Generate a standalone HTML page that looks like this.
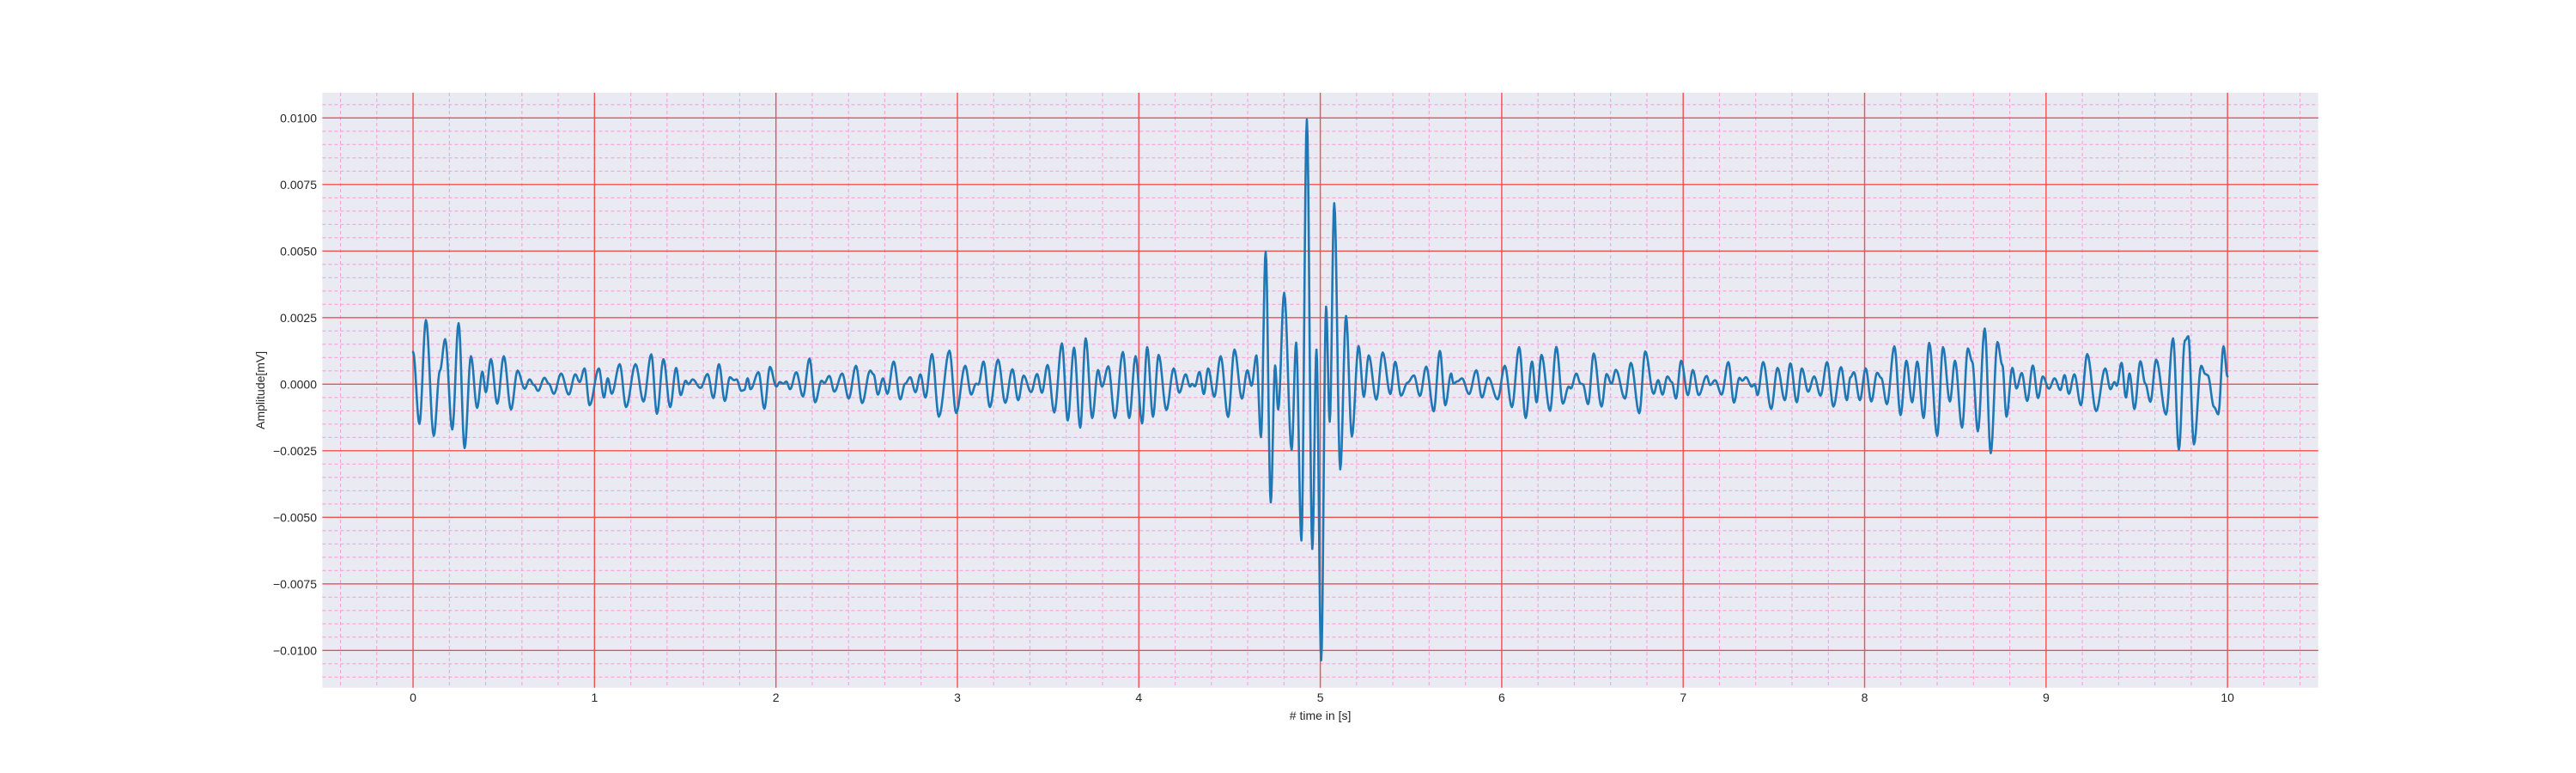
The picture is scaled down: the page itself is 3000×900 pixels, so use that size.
<!DOCTYPE html>
<html><head><meta charset="utf-8"><style>
html,body{margin:0;padding:0;background:#fff;}
svg{display:block;font-family:"Liberation Sans","DejaVu Sans",sans-serif;}
</style></head><body>
<svg id="chart" width="3000" height="900" viewBox="0 0 3000 900">
<rect x="0" y="0" width="3000" height="900" fill="#ffffff"/>
<g id="plot"></g>
</svg>
<script>
const xTicks = [0,1,2,3,4,5,6,7,8,9,10];
const yTicks = [-0.01,-0.0075,-0.005,-0.0025,0,0.0025,0.005,0.0075,0.01];
const yTickLabels = ["\u22120.0100","\u22120.0075","\u22120.0050","\u22120.0025","0.0000","0.0025","0.0050","0.0075","0.0100"];
const timeS = [
0.000,0.035,0.071,0.114,0.148,0.177,0.216,0.251,0.284,0.319,0.353,0.382,0.401,0.429,0.464,0.500,0.540,0.576,0.615,0.642,0.666,0.689,0.724,0.748,0.776,0.816,0.858,0.894,0.918,0.945,0.973,1.024,1.052,1.073,1.095,1.139,1.174,1.226,1.270,1.313,1.344,1.380,1.417,1.450,1.475,1.502,1.518,1.541,1.584,1.623,1.655,1.686,1.718,1.746,1.770,1.783,1.809,1.825,1.844,1.860,1.904,1.936,1.967,2.002,2.022,2.041,2.057,2.078,2.112,
2.149,2.185,2.216,2.251,2.267,2.294,2.322,2.365,2.401,2.441,2.475,2.519,2.538,2.562,2.590,2.614,2.649,2.685,2.712,2.740,2.769,2.796,2.824,2.860,2.898,2.956,2.993,3.043,3.076,3.103,3.116,3.144,3.179,3.224,3.264,3.303,3.335,3.365,3.406,3.439,3.466,3.497,3.534,3.576,3.608,3.643,3.677,3.707,3.743,3.775,3.797,3.832,3.868,3.912,3.947,3.982,4.018,4.046,4.078,4.109,4.152,4.192,4.223,4.258,4.282,
4.293,4.309,4.334,4.358,4.382,4.416,4.451,4.492,4.527,4.568,4.598,4.621,4.648,4.673,4.699,4.727,4.751,4.768,4.801,4.842,4.867,4.896,4.926,4.956,4.979,5.005,5.032,5.052,5.077,5.110,5.142,5.174,5.211,5.240,5.267,5.309,5.344,5.386,5.413,5.445,5.481,5.516,5.549,5.584,5.625,5.659,5.689,5.721,5.734,5.757,5.781,5.820,5.860,5.891,5.926,
5.977,6.017,6.056,6.096,6.132,6.167,6.192,6.219,6.266,6.301,6.337,6.369,6.381,6.411,6.435,6.447,6.476,6.507,6.550,6.578,6.605,6.629,6.679,6.712,6.758,6.791,6.837,6.862,6.886,6.913,6.937,6.960,6.989,7.026,7.053,7.086,7.129,7.149,7.176,7.212,7.249,7.280,7.310,7.326,7.346,7.378,7.394,7.410,7.441,7.485,7.520,7.560,7.591,7.626,7.654,7.689,7.722,7.757,7.793,7.828,7.870,7.902,7.922,7.941,7.974,8.006,8.037,
8.069,8.091,8.123,8.164,8.198,8.230,8.262,8.290,8.325,8.356,8.400,8.432,8.470,8.498,8.537,8.569,8.593,8.624,8.662,8.695,8.732,8.759,8.782,8.814,8.837,8.866,8.896,8.927,8.956,8.982,9.016,9.047,9.079,9.102,9.126,9.156,9.192,9.227,9.276,9.326,9.355,9.377,9.390,9.416,9.440,9.460,9.487,9.520,9.547,9.575,9.607,9.661,9.700,9.732,9.765,9.784,9.815,9.855,9.878,9.891,9.926,9.949,9.978,10.000];
const amplitudeMicroV = [
1.21,-1.49,2.41,-1.94,0.51,1.69,-1.70,2.29,-2.40,1.05,-0.89,0.47,-0.30,0.94,-0.73,1.05,-0.95,0.51,-0.17,0.18,-0.03,-0.25,0.24,0.02,-0.36,0.40,-0.39,0.37,0.08,0.59,-0.79,0.59,-0.50,0.22,-0.36,0.75,-0.86,0.75,-0.65,1.12,-1.11,0.94,-0.86,0.61,-0.41,0.13,0.00,0.18,-0.14,0.38,-0.52,0.75,-0.63,0.26,0.15,0.18,-0.25,-0.22,0.22,-0.19,0.45,-0.92,0.65,-0.09,0.08,0.02,0.10,-0.19,0.45,
-0.46,0.96,-0.68,0.13,0.05,0.31,-0.28,0.40,-0.54,0.69,-0.71,0.51,0.37,-0.39,0.22,-0.36,0.85,-0.57,0.02,0.26,-0.30,0.37,-0.50,1.13,-1.22,1.26,-1.08,0.69,-0.39,0.02,-0.01,0.85,-0.86,0.92,-0.70,0.56,-0.60,0.32,-0.30,0.38,-0.32,0.72,-1.06,1.53,-1.36,1.37,-1.63,1.72,-1.27,0.53,-0.09,0.67,-1.27,1.21,-1.27,1.05,-1.47,1.39,-1.22,1.10,-0.97,0.59,-0.32,0.37,-0.09,
0.01,-0.08,0.46,-0.37,0.59,-0.47,1.05,-1.23,1.30,-0.54,0.52,-0.06,1.08,-1.99,4.98,-4.44,0.70,-0.95,3.43,-2.47,1.56,-5.87,9.94,-6.19,1.30,-10.37,2.91,-1.41,6.80,-3.20,2.56,-1.96,1.43,-0.47,1.08,-0.58,1.19,-0.37,0.84,-0.43,0.06,0.33,-0.44,0.66,-1.02,1.25,-0.79,0.40,0.03,0.11,0.22,-0.37,0.52,-0.50,0.25,
-0.57,0.69,-0.86,1.39,-1.27,0.85,-0.68,1.10,-1.00,1.40,-0.73,-0.09,-0.16,0.40,0.02,0.00,-0.75,1.15,-0.84,0.38,0.02,0.54,-0.54,0.80,-1.09,1.23,-0.36,0.15,-0.39,0.29,0.08,-0.54,0.88,-0.41,0.53,-0.41,0.31,-0.03,0.15,-0.39,0.83,-0.69,0.24,0.13,0.26,-0.09,0.00,-0.41,0.83,-0.93,0.61,-0.60,0.78,-0.68,0.59,-0.28,0.29,-0.43,0.83,-0.84,0.64,-0.60,0.26,0.45,-0.60,0.59,-0.65,
0.43,0.24,-0.75,1.42,-1.16,0.88,-0.68,0.85,-1.27,1.55,-1.94,1.39,-0.65,0.88,-1.63,1.34,0.85,-1.77,2.09,-2.59,1.58,0.72,-1.22,0.61,-0.16,0.42,-0.63,0.70,-0.52,0.29,-0.17,0.22,-0.22,0.34,-0.36,0.37,-0.79,1.13,-1.01,0.59,-0.19,0.08,-0.06,0.80,-0.50,0.40,-0.93,0.86,0.02,-0.66,0.92,-1.14,1.72,-2.46,1.64,1.80,-2.26,0.69,0.38,0.34,-0.86,-1.13,1.42,0.29];

const NS='http://www.w3.org/2000/svg';
const L=375.4,R=2699.8,T=108,B=800.7;
const xMin=-0.5,xMax=10.5;
const y0px=447.3, pxPerUnit=31000;
function sx(t){return L+(t-xMin)/(xMax-xMin)*(R-L);}
function sy(v){return y0px - v*pxPerUnit;}
const plot=document.getElementById('plot');
function mk(tag,attrs,parent){const e=document.createElementNS(NS,tag);for(const k in attrs)e.setAttribute(k,attrs[k]);(parent||plot).appendChild(e);return e;}

const bg=mk('rect',{x:L,y:T,width:R-L,height:B-T,fill:'#eaeaf2'});



// minor grid
const minorG=mk('g',{stroke:'#f5a3dc','stroke-width':1.1,'stroke-dasharray':'4,3',fill:'none'});


for(let i=-2;i<=52;i++){const t=i*0.2;if(i%5===0)continue;const x=sx(t);if(x<L||x>R)continue;mk('line',{x1:x,x2:x,y1:T,y2:B},minorG);}
for(let i=-30;i<=30;i++){const v=i*0.0005;if(i%5===0)continue;const y=sy(v);if(y<T||y>B)continue;mk('line',{x1:L,x2:R,y1:y,y2:y},minorG);}
// major grid
const majorG=mk('g',{stroke:'#f24e4e','stroke-width':1.4});


xTicks.forEach(t=>{mk('line',{x1:sx(t),x2:sx(t),y1:T,y2:B},majorG);});
yTicks.forEach(v=>{mk('line',{x1:L,x2:R,y1:sy(v),y2:sy(v)},majorG);});

// tick labels
const xl=mk('g',{'font-size':14,fill:'#262626','text-anchor':'middle'});


xTicks.forEach(t=>{const e=mk('text',{x:sx(t),y:817},xl);e.textContent=String(t);});
const yl=mk('g',{'font-size':14,fill:'#262626','text-anchor':'end'});


yTicks.forEach((v,i)=>{const e=mk('text',{x:369,y:sy(v)+5},yl);e.textContent=yTickLabels[i];});

const xt=mk('text',{x:(L+R)/2,y:838,'font-size':14,fill:'#262626','text-anchor':'middle'});
xt.textContent='# time in [s]';


const yt=mk('text',{x:0,y:0,'font-size':14,fill:'#262626','text-anchor':'middle',transform:'translate(308,'+((T+B)/2)+') rotate(-90)'});
yt.textContent='Amplitude[mV]';



// signal: cosine interpolation between read extrema
let d='';
for(let i=0;i<timeS.length;i++){
  const t=timeS[i], v=amplitudeMicroV[i]/1000;
  if(i===0){d+='M'+sx(t).toFixed(2)+','+sy(v).toFixed(2);continue;}
  const t0=timeS[i-1], v0=amplitudeMicroV[i-1]/1000;
  const n=8;
  for(let k=1;k<=n;k++){
    const f=k/n, w=(1-Math.cos(Math.PI*f))/2;
    const tt=t0+(t-t0)*f, vv=v0+(v-v0)*w;
    d+='L'+sx(tt).toFixed(2)+','+sy(vv).toFixed(2);
  }
}
const line=mk('path',{d:d,fill:'none',stroke:'#1f77b4','stroke-width':2.6,'stroke-linejoin':'round','stroke-linecap':'round'});


</script>
</body></html>
